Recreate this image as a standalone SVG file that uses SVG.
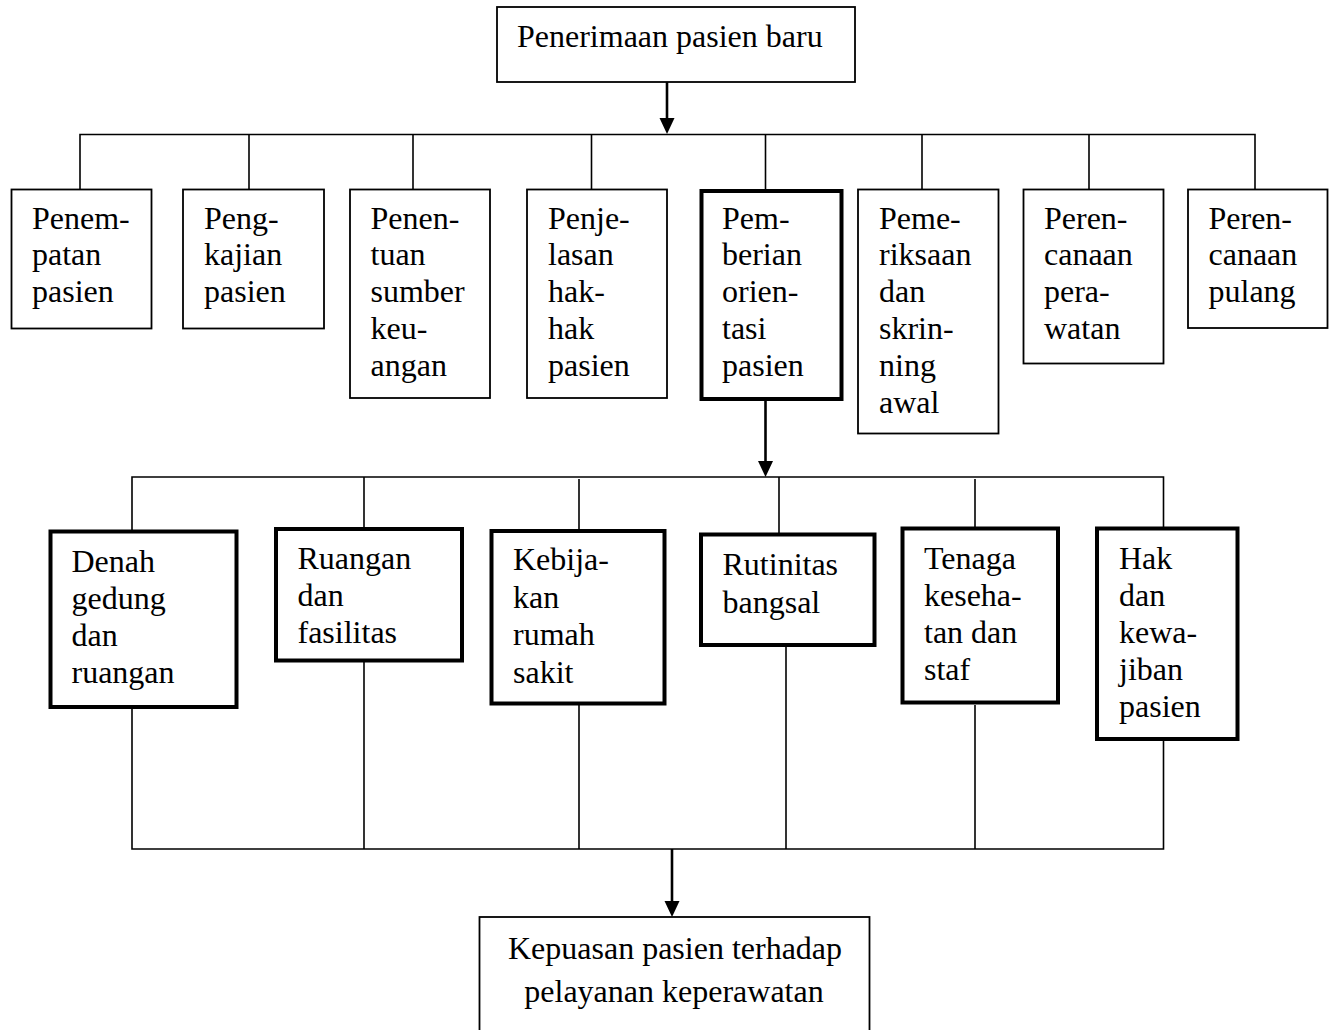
<svg xmlns="http://www.w3.org/2000/svg" width="1334" height="1030" viewBox="0 0 1334 1030">
<style>
.n rect{fill:#fff;stroke:#000}
.thin{stroke-width:1.8}
.thick{stroke-width:4}
text{font-family:"Liberation Serif","Times New Roman",serif;font-size:32px;fill:#000}
.c{fill:none;stroke:#000;stroke-width:1.6}
.a{fill:none;stroke:#000;stroke-width:2.6}
</style>
<rect width="1334" height="1030" style="fill:#fff;stroke:none"/>
<g id="connectors">
<line class="a" x1="667" y1="82" x2="667" y2="118"/>
<path d="M659.5,118 L674.5,118 L667,134 Z" fill="#000"/>
<polyline class="c" points="80,190 80,134.5 1255,134.5 1255,190"/>
<line class="c" x1="249" y1="134.5" x2="249" y2="190"/>
<line class="c" x1="413" y1="134.5" x2="413" y2="190"/>
<line class="c" x1="591.5" y1="134.5" x2="591.5" y2="190"/>
<line class="c" x1="765.5" y1="134.5" x2="765.5" y2="190"/>
<line class="c" x1="922" y1="134.5" x2="922" y2="190"/>
<line class="c" x1="1089" y1="134.5" x2="1089" y2="190"/>
<line class="a" x1="765.5" y1="400" x2="765.5" y2="461"/>
<path d="M758,461 L773,461 L765.5,477 Z" fill="#000"/>
<polyline class="c" points="132,531 132,477 1163.5,477 1163.5,528"/>
<line class="c" x1="364" y1="477" x2="364" y2="528"/>
<line class="c" x1="579" y1="479" x2="579" y2="530"/>
<line class="c" x1="779" y1="477" x2="779" y2="534"/>
<line class="c" x1="975" y1="479" x2="975" y2="528"/>
<polyline class="c" points="132,707 132,849 1163.5,849 1163.5,739"/>
<line class="c" x1="364" y1="661" x2="364" y2="849"/>
<line class="c" x1="579" y1="703" x2="579" y2="849"/>
<line class="c" x1="786" y1="645" x2="786" y2="849"/>
<line class="c" x1="975" y1="705" x2="975" y2="849"/>
<line class="a" x1="672" y1="849" x2="672" y2="901"/>
<path d="M664.5,901 L679.5,901 L672,917 Z" fill="#000"/>
</g>
<g id="n-top" class="n">
<rect class="thin" x="497" y="7" width="358" height="75"/>
<text x="517" y="47">Penerimaan pasien baru</text>
</g>
<g id="n-penempatan" class="n">
<rect class="thin" x="11.5" y="189.5" width="140" height="139"/>
<text x="32" y="228.5"><tspan>Penem-</tspan><tspan x="32" dy="36.8">patan</tspan><tspan x="32" dy="36.8">pasien</tspan></text>
</g>
<g id="n-pengkajian" class="n">
<rect class="thin" x="183" y="189.5" width="141" height="139"/>
<text x="204" y="228.5"><tspan>Peng-</tspan><tspan x="204" dy="36.8">kajian</tspan><tspan x="204" dy="36.8">pasien</tspan></text>
</g>
<g id="n-penentuan" class="n">
<rect class="thin" x="350" y="189.5" width="140" height="208.5"/>
<text x="370.5" y="228.5"><tspan>Penen-</tspan><tspan x="370.5" dy="36.8">tuan</tspan><tspan x="370.5" dy="36.8">sumber</tspan><tspan x="370.5" dy="36.8">keu-</tspan><tspan x="370.5" dy="36.8">angan</tspan></text>
</g>
<g id="n-penjelasan" class="n">
<rect class="thin" x="527" y="189.5" width="140" height="208.5"/>
<text x="548" y="228.5"><tspan>Penje-</tspan><tspan x="548" dy="36.8">lasan</tspan><tspan x="548" dy="36.8">hak-</tspan><tspan x="548" dy="36.8">hak</tspan><tspan x="548" dy="36.8">pasien</tspan></text>
</g>
<g id="n-pemberian" class="n">
<rect class="thick" x="701.5" y="191" width="140" height="208"/>
<text x="722" y="228.5"><tspan>Pem-</tspan><tspan x="722" dy="36.8">berian</tspan><tspan x="722" dy="36.8">orien-</tspan><tspan x="722" dy="36.8">tasi</tspan><tspan x="722" dy="36.8">pasien</tspan></text>
</g>
<g id="n-pemeriksaan" class="n">
<rect class="thin" x="858" y="189.5" width="140.5" height="244"/>
<text x="879" y="228.5"><tspan>Peme-</tspan><tspan x="879" dy="36.8">riksaan</tspan><tspan x="879" dy="36.8">dan</tspan><tspan x="879" dy="36.8">skrin-</tspan><tspan x="879" dy="36.8">ning</tspan><tspan x="879" dy="36.8">awal</tspan></text>
</g>
<g id="n-perencanaan-perawatan" class="n">
<rect class="thin" x="1023.5" y="189.5" width="140" height="174"/>
<text x="1044" y="228.5"><tspan>Peren-</tspan><tspan x="1044" dy="36.8">canaan</tspan><tspan x="1044" dy="36.8">pera-</tspan><tspan x="1044" dy="36.8">watan</tspan></text>
</g>
<g id="n-perencanaan-pulang" class="n">
<rect class="thin" x="1188" y="189.5" width="139.5" height="138.5"/>
<text x="1208.5" y="228.5"><tspan>Peren-</tspan><tspan x="1208.5" dy="36.8">canaan</tspan><tspan x="1208.5" dy="36.8">pulang</tspan></text>
</g>
<g id="n-denah" class="n">
<rect class="thick" x="50.5" y="531.5" width="186" height="175.5"/>
<text x="71.5" y="571.5"><tspan>Denah</tspan><tspan x="71.5" dy="37">gedung</tspan><tspan x="71.5" dy="37">dan</tspan><tspan x="71.5" dy="37">ruangan</tspan></text>
</g>
<g id="n-ruangan" class="n">
<rect class="thick" x="276" y="529" width="186" height="131.5"/>
<text x="297.5" y="569"><tspan>Ruangan</tspan><tspan x="297.5" dy="37">dan</tspan><tspan x="297.5" dy="37">fasilitas</tspan></text>
</g>
<g id="n-kebijakan" class="n">
<rect class="thick" x="491.5" y="531" width="173" height="172.5"/>
<text x="513" y="570"><tspan>Kebija-</tspan><tspan x="513" dy="37.5">kan</tspan><tspan x="513" dy="37.5">rumah</tspan><tspan x="513" dy="37.5">sakit</tspan></text>
</g>
<g id="n-rutinitas" class="n">
<rect class="thick" x="701" y="534.5" width="173.5" height="110.5"/>
<text x="722.5" y="574.5"><tspan>Rutinitas</tspan><tspan x="722.5" dy="38">bangsal</tspan></text>
</g>
<g id="n-tenaga" class="n">
<rect class="thick" x="902.5" y="528.5" width="155.5" height="174"/>
<text x="924" y="569"><tspan>Tenaga</tspan><tspan x="924" dy="37">keseha-</tspan><tspan x="924" dy="37">tan dan</tspan><tspan x="924" dy="37">staf</tspan></text>
</g>
<g id="n-hak" class="n">
<rect class="thick" x="1097" y="528.5" width="140.5" height="210.5"/>
<text x="1119" y="569"><tspan>Hak</tspan><tspan x="1119" dy="37">dan</tspan><tspan x="1119" dy="37">kewa-</tspan><tspan x="1119" dy="37">jiban</tspan><tspan x="1119" dy="37">pasien</tspan></text>
</g>
<g id="n-kepuasan" class="n">
<rect class="thin" x="479.5" y="917" width="390" height="130"/>
<text x="675" y="959" text-anchor="middle"><tspan>Kepuasan pasien terhadap</tspan><tspan x="674" dy="43">pelayanan keperawatan</tspan></text>
</g>
</svg>
